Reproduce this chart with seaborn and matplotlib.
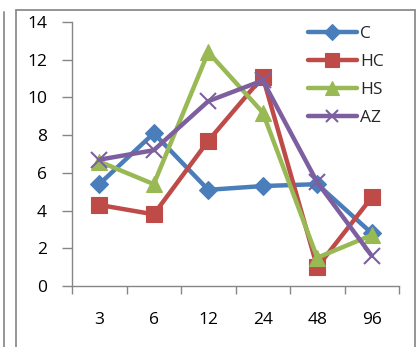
import matplotlib
matplotlib.use("Agg")
import matplotlib.pyplot as plt
import seaborn as sns
import pandas as pd
import numpy as np
from matplotlib.lines import Line2D

categories = ["3", "6", "12", "24", "48", "96"]
C = [5.4, 8.1, 5.1, 5.3, 5.4, 2.8]
HC = [4.3, 3.8, 7.7, 11.1, 1.0, 4.7]
HS = [6.6, 5.4, 12.4, 9.2, 1.5, 2.7]
AZ = [6.7, 7.2, 9.8, 10.9, 5.5, 1.6]
series_names = ["C", "HC", "HS", "AZ"]
y_ticks = [0, 2, 4, 6, 8, 10, 12, 14]

colors = {"C": "#4A7EBB", "HC": "#BE4B48", "HS": "#98B954", "AZ": "#7D5FA0"}
markers = {"C": "D", "HC": "s", "HS": "^", "AZ": "x"}
msizes = {"C": 9, "HC": 12, "HS": 12, "AZ": 11}

rows = []
for name, vals in zip(series_names, [C, HC, HS, AZ]):
    for i, v in enumerate(vals):
        rows.append({"pos": i, "value": v, "series": name})
df = pd.DataFrame(rows)

sns.set_theme(style="white")
plt.rcParams["font.family"] = ["Open Sans", "DejaVu Sans"]

fig = plt.figure(figsize=(4.2, 3.47), dpi=100)
W, H = 420, 347
ax = fig.add_axes([72 / W, 1 - 286 / H, (399 - 72) / W, (286 - 22) / H])

for name in series_names:
    sub = df[df.series == name]
    sns.lineplot(data=sub, x="pos", y="value", ax=ax, color=colors[name],
                 linewidth=3.2, marker=markers[name], markersize=msizes[name],
                 markeredgecolor=colors[name], markeredgewidth=1.5 if name == "AZ" else 0.8,
                 label=name, legend=False)

fs = 12.5
ax.set_xlim(-0.5, 5.5)
ax.set_ylim(0, 14)
ax.set_yticks(y_ticks)
ax.set_yticklabels([str(t) for t in y_ticks], fontsize=fs, color="black")
ax.set_xticks(range(len(categories)))
ax.set_xticklabels(categories, fontsize=fs, color="black")
ax.set_xticks(np.arange(-0.5, 6.0, 1.0), minor=True)
ax.tick_params(axis="x", which="major", length=0, pad=19)
ax.tick_params(axis="x", which="minor", length=6, width=1, color="#868686", direction="out", bottom=True)
ax.tick_params(axis="y", which="major", length=7, width=1, color="#868686", direction="out", left=True, pad=11)
ax.set_xlabel("")
ax.set_ylabel("")
for s in ["top", "right"]:
    ax.spines[s].set_visible(False)
for s in ["left", "bottom"]:
    ax.spines[s].set_color("#868686")
    ax.spines[s].set_linewidth(1)
ax.grid(False)

handles = [Line2D([0], [0], color=colors[n], linewidth=3.2, marker=markers[n],
                  markersize=msizes[n] * 0.85, markeredgecolor=colors[n],
                  markeredgewidth=1.5 if n == "AZ" else 0.8) for n in series_names]
leg = ax.legend(handles, series_names, loc="upper left", bbox_to_anchor=(308 / W, 1 - 26 / H),
                bbox_transform=fig.transFigure, frameon=False, fontsize=fs,
                handlelength=2.8, handletextpad=0.2, labelspacing=0.68, borderaxespad=0,
                borderpad=0)

# outer frames
gray = "#8C8C8C"
fig.add_artist(Line2D([16 / W, 16 / W], [0, 1 - 10 / H], color=gray, linewidth=1.3, transform=fig.transFigure))
fig.add_artist(Line2D([16 / W, 415 / W], [1 - 10 / H, 1 - 10 / H], color=gray, linewidth=1.3, transform=fig.transFigure))
fig.add_artist(Line2D([415 / W, 415 / W], [0, 1 - 10 / H], color=gray, linewidth=1.3, transform=fig.transFigure))
fig.add_artist(Line2D([3.5 / W, 3.5 / W], [0, 1 - 12 / H], color=gray, linewidth=1.3, transform=fig.transFigure))

fig.savefig("out.png", dpi=100)
